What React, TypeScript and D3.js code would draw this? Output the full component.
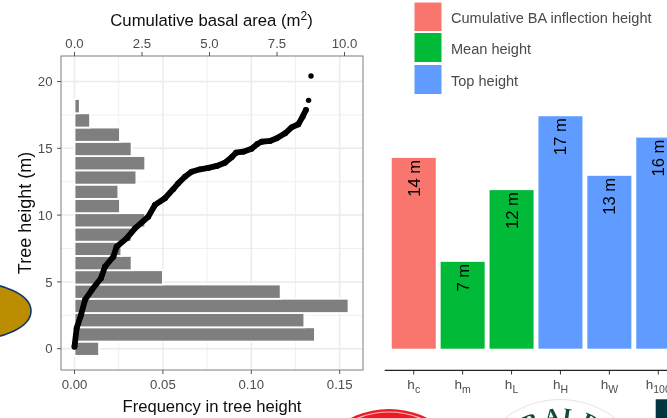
import React from "react";
import * as d3 from "d3";

const W = 667, H = 418;

const binCentersIdx = d3.range(18);
const binWidth = 1.068;
const frequency = [0.0139, 0.136, 0.13, 0.155, 0.1166, 0.05, 0.0323, 0.0265, 0.0323, 0.04, 0.0257, 0.0248, 0.035, 0.04, 0.0323, 0.0257, 0.0088, 0.003];

const curveHeights = [0.15, 1.53, 2.52, 3.65, 4.39, 5.27, 6.14, 6.89, 7.63, 8.26, 9.01, 9.88, 10.76, 11.26, 11.95, 12.38, 12.87, 13.25, 13.43, 13.53, 13.68, 13.92, 14.33, 14.67, 14.75, 14.97, 15.32, 15.49, 15.55, 15.75, 16.12, 16.57, 16.8, 17.37, 17.87];
const curveBA = [0, 0.08, 0.24, 0.39, 0.64, 0.98, 1.13, 1.44, 1.56, 1.93, 2.24, 2.73, 2.98, 3.35, 3.66, 3.84, 4.09, 4.34, 4.65, 4.96, 5.27, 5.57, 5.82, 5.98, 6.25, 6.56, 6.77, 6.93, 7.24, 7.49, 7.8, 8.04, 8.29, 8.45, 8.57];
const outlierHeights = [18.59, 20.41];
const outlierBA = [8.67, 8.76];

const freqTicks = [0, 0.05, 0.1, 0.15];
const freqMinor = [0.025, 0.075, 0.125];
const baTicks = [0, 2.5, 5, 7.5, 10];
const heightTicks = [0, 5, 10, 15, 20];
const heightMinor = [2.5, 7.5, 12.5, 17.5];

const metricBase = ["h", "h", "h", "h", "h", "h"];
const metricSub = ["c", "m", "L", "H", "W", "100"];
const metricValue = [14.28, 6.5, 11.87, 17.4, 12.94, 15.8];
const metricLabel = ["14 m", "7 m", "12 m", "17 m", "13 m", "16 m"];
const metricGroup = [0, 1, 1, 2, 2, 2];

const legendLabels = ["Cumulative BA inflection height", "Mean height", "Top height"];
const groupColors = ["#F8766D", "#00BA38", "#619CFF"];

const logoLetters = ["B", "A", "L", "D"];
const logoAngles = [-23, -6, 8, 24];

const FONT = "'Liberation Sans', Arial, sans-serif";
const TICK = "#4d4d4d";

export default function App() {
  const xF = d3.scaleLinear().domain([0, 0.15]).range([74.5, 339.7]);
  const xB = d3.scaleLinear().domain([0, 10]).range([74.5, 344.5]);
  const y = d3.scaleLinear().domain([0, 20]).range([348.7, 81.5]);
  const xM = d3.scaleBand<number>().domain(d3.range(6)).range([389.3, 682.7]).paddingInner(0.1).paddingOuter(0.05);
  const yM = d3.scaleLinear().domain([0, 20]).range([348.7, 81.5]);
  const line = d3.line<number>().x((i) => xB(curveBA[i])).y((i) => y(curveHeights[i]));
  const L = 61, R = 363, T = 56, B = 370;

  return (
    <svg width={W} height={H} viewBox={`0 0 ${W} ${H}`} style={{ position: "fixed", left: 0, top: 0, background: "#fff", fontFamily: FONT }}>
      <defs>
        <filter id="soft" x="-5%" y="-5%" width="110%" height="110%"><feGaussianBlur stdDeviation="0.35" /></filter>
      </defs>
      <g filter="url(#soft)">
        {/* left panel */}
        {freqMinor.map((v) => <line key={v} x1={xF(v)} x2={xF(v)} y1={T} y2={B} stroke="#f0f0f0" strokeWidth={1} />)}
        {heightMinor.map((v) => <line key={v} x1={L} x2={R} y1={y(v)} y2={y(v)} stroke="#f0f0f0" strokeWidth={1} />)}
        {freqTicks.map((v) => <line key={v} x1={xF(v)} x2={xF(v)} y1={T} y2={B} stroke="#ebebeb" strokeWidth={1.5} />)}
        {heightTicks.map((v) => <line key={v} x1={L} x2={R} y1={y(v)} y2={y(v)} stroke="#ebebeb" strokeWidth={1.5} />)}
        {binCentersIdx.map((i) => (
          <rect key={i} x={xF(0)} width={xF(frequency[i]) - xF(0)}
            y={y((i + 0.5) * binWidth)} height={y(0) - y(binWidth)}
            fill="#7f7f7f" stroke="#fff" strokeWidth={1.8} />
        ))}
        <path d={line(d3.range(curveBA.length)) as string} fill="none" stroke="#000" strokeWidth={5.8} strokeLinejoin="round" strokeLinecap="round" />
        {curveBA.map((v, i) => <circle key={i} cx={xB(v)} cy={y(curveHeights[i])} r={2.9} fill="#000" />)}
        {outlierBA.map((v, i) => <circle key={i} cx={xB(v)} cy={y(outlierHeights[i])} r={2.7} fill="#000" />)}
        <rect x={L} y={T} width={R - L} height={B - T} fill="none" stroke="#7f7f7f" strokeWidth={1} />

        {freqTicks.map((v) => (
          <g key={v}>
            <line x1={xF(v)} x2={xF(v)} y1={B} y2={B + 4} stroke="#555" />
            <text x={xF(v)} y={389} textAnchor="middle" fontSize={13.2} fill={TICK}>{d3.format(".2f")(v)}</text>
          </g>
        ))}
        {baTicks.map((v) => (
          <g key={v}>
            <line x1={xB(v)} x2={xB(v)} y1={T - 4} y2={T} stroke="#555" />
            <text x={xB(v)} y={48} textAnchor="middle" fontSize={13.2} fill={TICK}>{d3.format(".1f")(v)}</text>
          </g>
        ))}
        {heightTicks.map((v) => (
          <g key={v}>
            <line x1={L - 4} x2={L} y1={y(v)} y2={y(v)} stroke="#555" />
            <text x={52.5} y={y(v) + 4.7} textAnchor="end" fontSize={13.2} fill={TICK}>{v}</text>
          </g>
        ))}
        <text x={211.5} y={26} textAnchor="middle" fontSize={16.7} fill="#111">
          Cumulative basal area (m<tspan dy={-6.5} fontSize={12}>2</tspan><tspan dy={6.5}>)</tspan>
        </text>
        <text x={212} y={412} textAnchor="middle" fontSize={16.6} fill="#111">Frequency in tree height</text>
        <text transform="translate(31,213) rotate(-90)" textAnchor="middle" fontSize={18} fill="#111">Tree height (m)</text>

        {/* legend */}
        {legendLabels.map((t, i) => {
          const top = [2.5, 33, 65][i];
          return (
            <g key={t}>
              <rect x={414.5} y={top} width={27} height={[28.5, 29, 29][i]} fill={groupColors[i]} />
              <text x={451} y={top + 20.5} fontSize={14.55} fill="#4a4a4a">{t}</text>
            </g>
          );
        })}

        {/* right panel */}
        {metricValue.map((v, i) => {
          const x0 = xM(i) as number;
          const bw = xM.bandwidth();
          const cx = x0 + bw / 2;
          return (
            <g key={i}>
              <rect x={x0} y={yM(v)} width={bw} height={yM(0) - yM(v)} fill={groupColors[metricGroup[i]]} />
              <text transform={`translate(${cx + 6},${yM(v) + 2}) rotate(-90)`} textAnchor="end" fontSize={16.6} fill="#000">{metricLabel[i]}</text>
              <line x1={cx} x2={cx} y1={370} y2={374.5} stroke="#333" />
              <text x={cx} y={389} textAnchor="middle" fontSize={13.5} fill={TICK}>
                {metricBase[i]}<tspan dy={3.5} fontSize={10.5}>{metricSub[i]}</tspan>
              </text>
            </g>
          );
        })}
        <line x1={384.7} x2={W} y1={370.3} y2={370.3} stroke="#222" strokeWidth={1.2} />

        {/* edge fragments of neighbouring artwork */}
        <ellipse cx={-29} cy={311} rx={60} ry={28.6} fill="#BC8D00" stroke="#123a6b" strokeWidth={1.6} />
        <circle cx={389} cy={495} r={86} fill="#ED1C24" />
        <circle cx={389} cy={495} r={83} fill="none" stroke="#fbb" strokeWidth={1.2} />
        <circle cx={560} cy={490} r={90.5} fill="#fff" stroke="#ddd" strokeWidth={0.8} />
        {logoLetters.map((c, i) => (
          <text key={c} transform={`translate(560,490) rotate(${logoAngles[i]}) translate(0,-67)`} textAnchor="middle" fontSize={22} fontFamily="'Liberation Serif', serif" fontWeight={700} fill="#0F4C3A">{c}</text>
        ))}
        <rect x={655.7} y={399.3} width={12} height={19} fill="#03343F" />
      </g>
    </svg>
  );
}
